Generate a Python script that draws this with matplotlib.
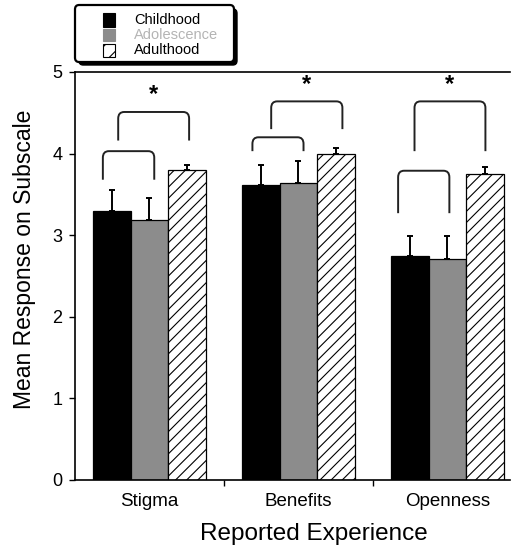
import numpy as np
import matplotlib
matplotlib.use("Agg")
import matplotlib.pyplot as plt
from matplotlib.path import Path
from matplotlib.patches import PathPatch, Rectangle, FancyBboxPatch

plt.rcParams['font.family'] = ['Liberation Sans', 'DejaVu Sans']
plt.rcParams['hatch.linewidth'] = 0.8

# data
categories = ['Stigma', 'Benefits', 'Openness']
periods = ['Childhood', 'Adolescence', 'Adulthood']
childhood = [3.30, 3.61, 2.74]
adolescence = [3.19, 3.64, 2.71]
adulthood = [3.80, 3.99, 3.75]
childhood_err = [0.25, 0.25, 0.25]
adolescence_err = [0.27, 0.27, 0.28]
adulthood_err = [0.06, 0.08, 0.08]

# brackets per category: (left offset, right offset, top, end)
small_brackets = [(-0.313, 0.032, 4.03, 3.68),
                  (-0.309, 0.034, 4.20, 4.03),
                  (-0.331, 0.013, 3.79, 3.27)]
large_brackets = [(-0.210, 0.266, 4.51, 4.16),
                  (-0.183, 0.295, 4.64, 4.30),
                  (-0.221, 0.255, 4.64, 4.03)]

means = [childhood, adolescence, adulthood]
errs = [childhood_err, adolescence_err, adulthood_err]
colors = ['black', '#8c8c8c', 'white']
hatches = [None, None, '///']
text_colors = ['black', '#b4b4b4', 'black']

W, H = 512, 547
fig = plt.figure(figsize=(W / 100, H / 100), dpi=100)
ax = fig.add_axes([75 / W, 1 - 480 / H, 435 / W, 408 / H])

x = np.arange(len(categories))
bw = 0.253
for i in range(3):
    ax.bar(x + (i - 1) * bw, means[i], bw, color=colors[i], edgecolor='black',
           linewidth=0.9, hatch=hatches[i], zorder=2)
    ax.errorbar(x + (i - 1) * bw, means[i], yerr=[np.zeros(3), errs[i]], fmt='none',
                ecolor='black', elinewidth=1.4, capsize=2.5, capthick=1.4, zorder=3)


def bracket(x0, x1, top, end, rx=0.04, ry=0.08):
    verts = [(x0, end), (x0, top - ry), (x0, top), (x0 + rx, top),
             (x1 - rx, top), (x1, top), (x1, top - ry), (x1, end)]
    codes = [Path.MOVETO, Path.LINETO, Path.CURVE3, Path.CURVE3,
             Path.LINETO, Path.CURVE3, Path.CURVE3, Path.LINETO]
    ax.add_patch(PathPatch(Path(verts, codes), fill=False, edgecolor='#222222',
                           linewidth=1.4, zorder=4, clip_on=False))


for c in range(len(categories)):
    l, r, t, e = small_brackets[c]
    bracket(c + l, c + r, t, e)
    l, r, t, e = large_brackets[c]
    bracket(c + l, c + r, t, e)
    ax.text(c + (l + r) / 2, t + 0.07, '*', ha='center', va='bottom',
            fontsize=17, fontweight='bold')

ax.set_xlim(-0.5, 2.42)
ax.set_ylim(0, 5)
ax.set_yticks([0, 1, 2, 3, 4, 5])
ax.set_xticks(x)
ax.set_xticklabels(categories, fontsize=13.5)
ax.set_xticks([0.5, 1.5], minor=True)
ax.tick_params(axis='x', which='major', length=0, pad=9)
ax.tick_params(axis='x', which='minor', length=4, width=1, direction='out')
ax.tick_params(axis='y', length=4, width=1, direction='out', pad=5, labelsize=13)
for s in ['left', 'bottom', 'top']:
    ax.spines[s].set_linewidth(1.2)
ax.spines['right'].set_visible(False)

ax.set_ylabel('Mean Response on Subscale', fontsize=16.5)
ax.yaxis.set_label_coords(-0.09, 0.54)
ax.set_xlabel('Reported Experience', fontsize=17.5)
ax.xaxis.set_label_coords(0.55, -0.105)


# legend drawn by hand (tight rows, drop shadow)
def fx(px):
    return px / W


def fy(py):
    return 1 - py / H


shadow = FancyBboxPatch((fx(79), fy(65)), fx(158), fy(9) - fy(65),
                        boxstyle='round,pad=0,rounding_size=0.008',
                        transform=fig.transFigure, facecolor='black', edgecolor='black')
box = FancyBboxPatch((fx(75), fy(62)), fx(159), fy(5) - fy(62),
                     boxstyle='round,pad=0,rounding_size=0.008',
                     transform=fig.transFigure, facecolor='white', edgecolor='black',
                     linewidth=1.6)
fig.patches.extend([shadow, box])
rows = [(13, 27), (29, 41), (44, 57)]
for i, lab in enumerate(periods):
    y0, y1 = rows[i]
    fig.patches.append(Rectangle((fx(103), fy(y1)), fx(12), fy(y0) - fy(y1),
                                 transform=fig.transFigure, facecolor=colors[i],
                                 edgecolor='black' if i != 1 else '#8c8c8c',
                                 linewidth=0.8, hatch='//' if hatches[i] else None))
    fig.text(fx(134), fy((y0 + y1) / 2), lab, color=text_colors[i], fontsize=10.5,
             va='center', ha='left')

fig.savefig('out.png', dpi=100)
